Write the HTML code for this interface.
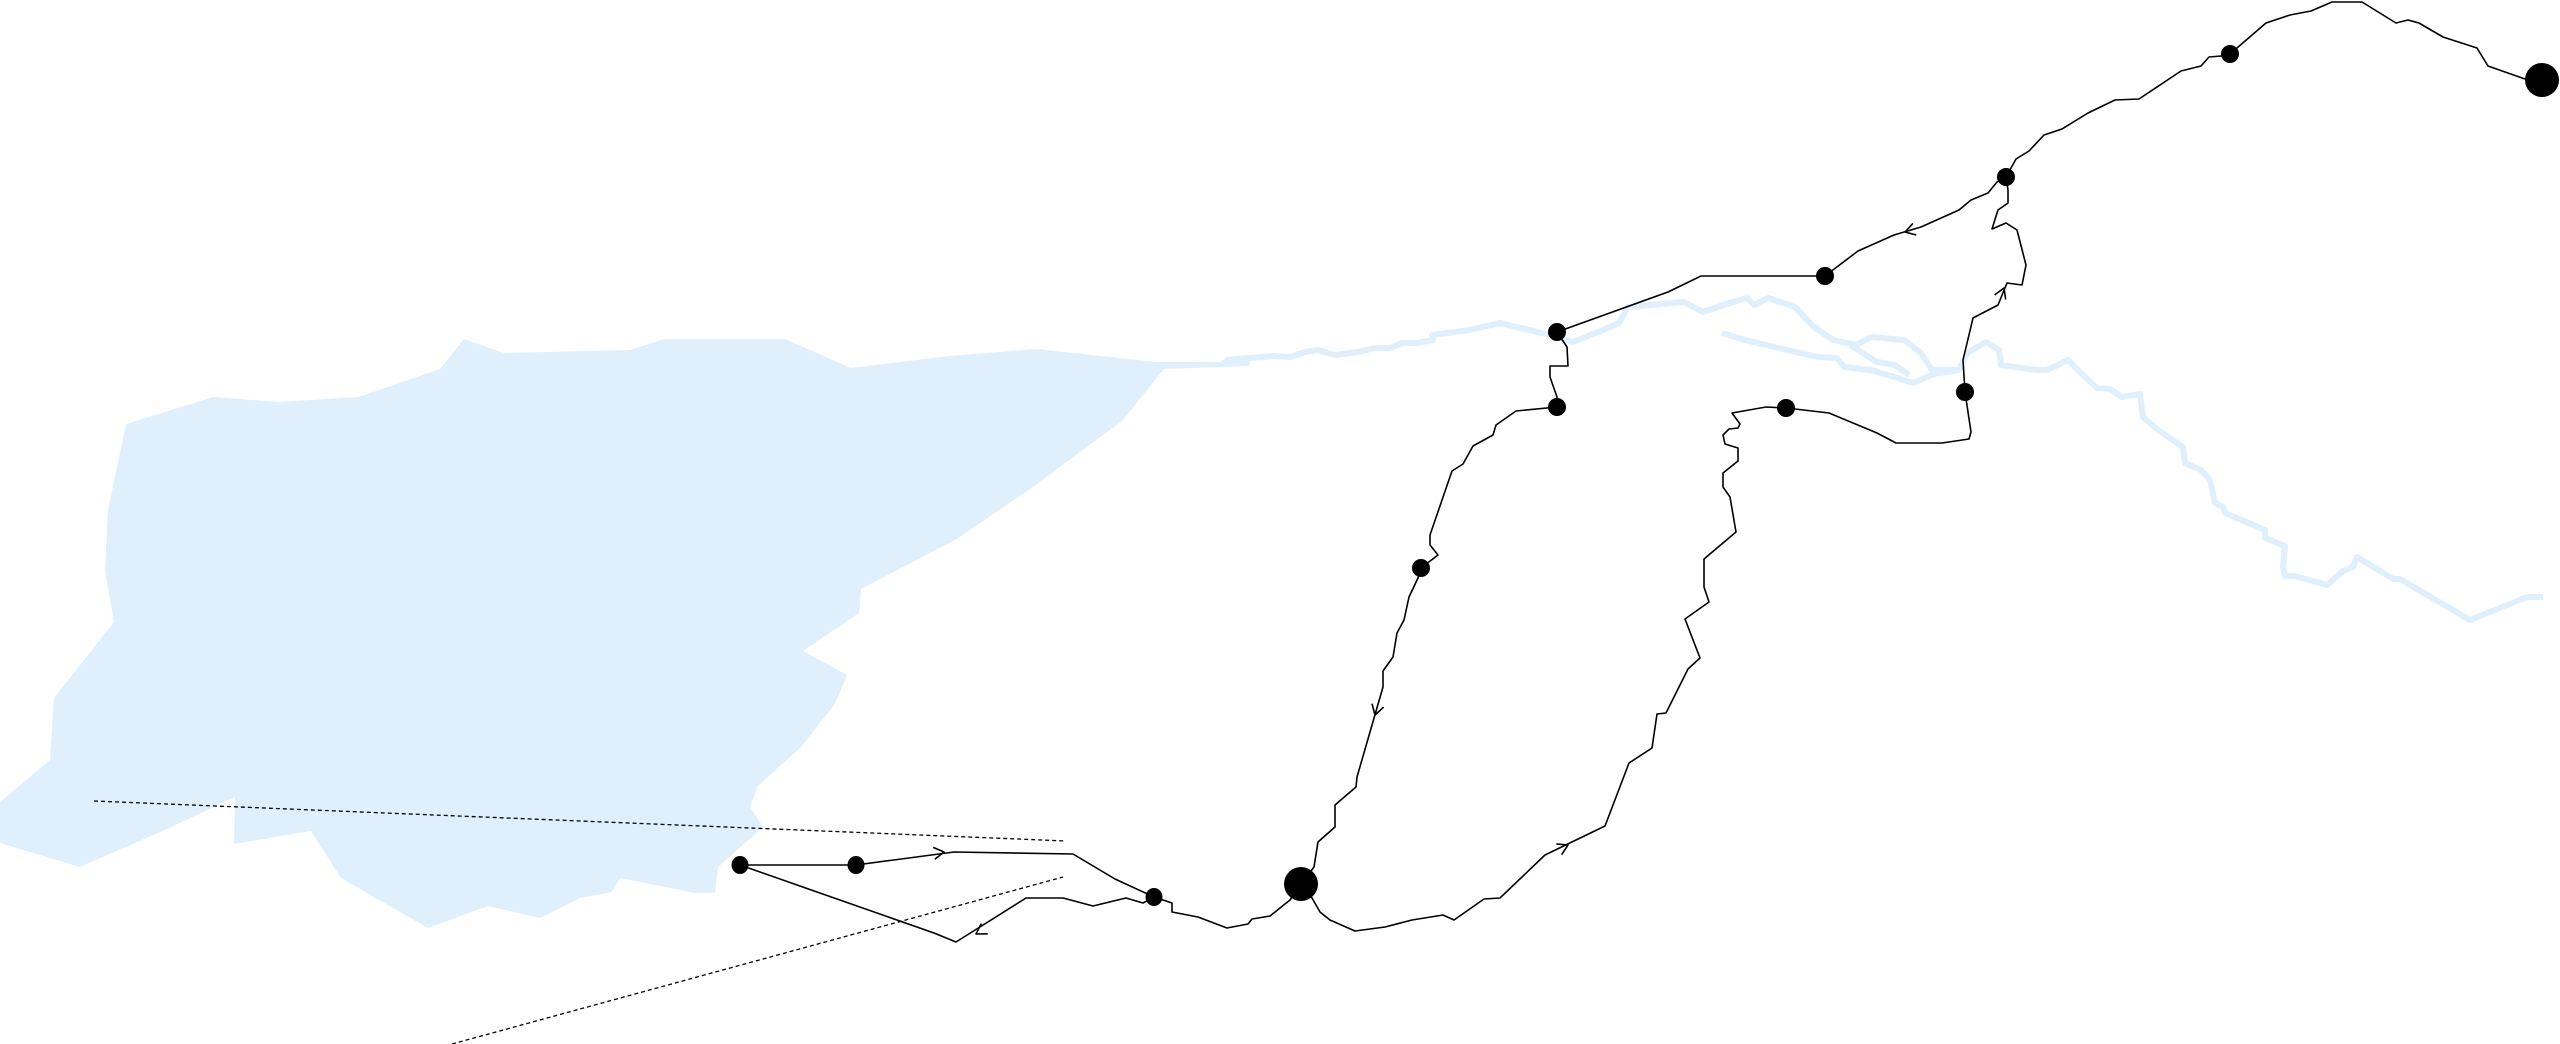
<!DOCTYPE html>
<html><head><meta charset="utf-8"><style>html,body{margin:0;padding:0;background:#fff;width:2560px;height:1044px;overflow:hidden}</style></head>
<body>
<svg width="2560" height="1044" viewBox="0 0 2560 1044" xmlns="http://www.w3.org/2000/svg">
<polygon fill="#dff0fc" points="464,339 504,353 630,350 664,339 785,339 851,368 949,356 1037,349 1156,362 1220,362 1226,358 1250,360 1250,366 1220,367 1164,369 1123,420 1037,484 957,539 861,589 859,613 803,651 847,675 835,704 801,747 758,786 750,807 763,827 718,867 715,893 695,893 620,878 612,892 580,898 540,918 488,906 428,928 341,878 311,831 234,844 235,797 167,829 80,867 0,843 0,802 50,760 54,698 114,622 105,571 108,510 126,424 213,397 279,402 359,397 440,369"/>
<g fill="none" stroke="#dff0fc" stroke-width="6" stroke-linejoin="round">
<polyline points="1226,360 1250,358 1272,356 1290,357 1305,352 1318,350 1335,355 1358,352 1375,348 1390,348 1402,343 1418,343 1433,340 1432,335 1470,330 1500,323 1550,335 1573,342 1603,330 1619,323 1628,307 1684,302 1703,312 1733,302 1747,298 1754,305 1768,298 1795,307 1814,327 1833,340 1856,345 1871,337 1904,340 1921,353 1932,370 1959,370 1967,353 1986,342 1999,350 2001,365 2036,370 2047,370 2068,360 2085,377 2097,388 2110,389 2122,397 2140,394 2143,417 2158,430 2183,447 2185,463 2201,470 2210,480 2215,503 2223,507 2225,513 2265,530 2265,538 2285,546 2283,567 2285,576 2295,576 2327,585 2343,571 2353,567 2357,557 2385,574 2393,579 2400,579 2470,620 2527,597 2543,597"/>
<polyline points="1722,333 1745,340 1787,350 1818,357 1837,358 1844,367 1871,370 1894,377 1913,383 1934,374 1959,370"/>
<polyline points="1850,345 1877,362 1895,365 1909,375"/>
</g>
<g fill="none" stroke="#000" stroke-width="1.6" stroke-linejoin="round">
<polyline points="740,865 856,865 954,852 1073,854 1115,879 1154,897 1172,903 1172,912 1198,917 1227,928 1248,924 1252,919 1270,916 1290,900 1301,884"/>
<polyline points="740,865 934,933 956,942 1026,898 1063,898 1093,906 1126,898 1143,903 1154,897"/>
<polyline points="1301,884 1314,867 1318,842 1335,827 1335,805 1356,787 1357,777 1383,687 1383,671 1393,657 1397,633 1404,620 1409,597 1418,578 1421,568 1438,555 1430,545 1430,535 1452,471 1463,464 1473,446 1493,435 1496,425 1516,411 1557,407"/>
<polyline points="1557,406 1557,397 1550,377 1550,366 1568,366 1567,347 1557,332"/>
<polyline points="1557,332 1668,292 1701,276 1825,276 1858,251 1894,235 1921,227 1959,210 1971,200 1988,193 1997,182 2006,177 2016,159 2029,151 2044,135 2062,129 2088,113 2115,100 2139,99 2181,71 2201,66 2209,57 2221,56 2230,54 2266,23 2290,15 2311,11 2332,2 2362,2 2396,23 2408,20 2419,23 2443,37 2477,48 2488,66 2525,79 2542,80"/>
<polyline points="2006,177 2008,190 2008,203 1998,210 1992,229 2006,223 2017,230 2026,265 2022,285 2007,283 1998,305 1973,318 1963,360 1965,392 1971,432 1969,439 1942,443 1896,443 1877,433 1829,413 1795,409 1786,408 1766,407 1732,413 1740,424 1738,428 1729,429 1723,435 1725,444 1738,448 1738,461 1723,473 1723,487 1730,497 1736,532 1704,559 1704,587 1709,602 1685,619 1700,658 1688,669 1666,713 1657,714 1652,748 1629,763 1605,826 1545,855 1500,898 1484,899 1454,920 1443,915 1412,920 1385,927 1355,931 1330,920 1320,912 1312,898 1301,884"/>
<polyline points="934.8,859.2 944,852 933.2,847.4"/>
<polyline points="987.7,933.8 976,934 981.3,923.6"/>
<polyline points="1916.3,235 1905,232 1912.9,223.4"/>
<polyline points="2005.7,299.5 2004,288 1994.7,294.9"/>
<polyline points="1383.6,707.1 1375,715 1372,703.7"/>
<polyline points="1561.6,854.7 1568,845 1556.4,843.9"/>
</g>
<g stroke="#000" stroke-width="1.3" stroke-dasharray="4,3" fill="none">
<line x1="94" y1="801" x2="1066" y2="841"/>
<line x1="452" y1="1044" x2="1063" y2="877"/>
</g>
<g fill="#000">
<ellipse cx="740" cy="865" rx="8.5" ry="9"/>
<ellipse cx="856" cy="865" rx="8.5" ry="9"/>
<ellipse cx="1154" cy="897" rx="8.5" ry="9"/>
<circle cx="1301" cy="884" r="17"/>
<circle cx="1421" cy="568" r="9"/>
<circle cx="1557" cy="407" r="9"/>
<circle cx="1557" cy="332" r="9"/>
<circle cx="1825" cy="276" r="9"/>
<circle cx="1786" cy="408" r="9"/>
<circle cx="1965" cy="392" r="9"/>
<circle cx="2006" cy="177" r="9"/>
<circle cx="2230" cy="54" r="9"/>
<circle cx="2542" cy="80" r="17"/>
</g>
</svg>
</body></html>
